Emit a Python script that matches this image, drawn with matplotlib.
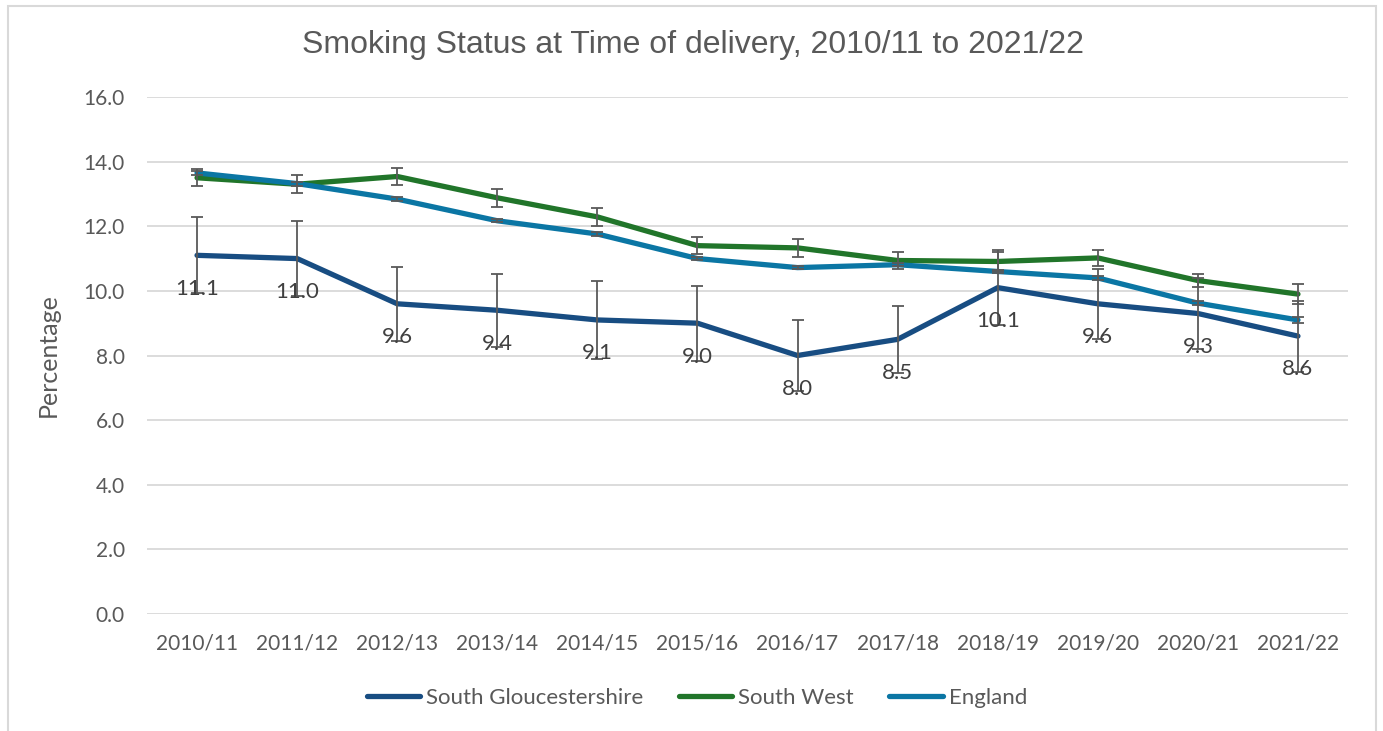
import numpy as np
import matplotlib
matplotlib.use("Agg")
import matplotlib.pyplot as plt
from matplotlib.patches import Rectangle

# data
years = ["2010/11", "2011/12", "2012/13", "2013/14", "2014/15", "2015/16",
         "2016/17", "2017/18", "2018/19", "2019/20", "2020/21", "2021/22"]

sglos = [11.1, 11.0, 9.6, 9.4, 9.1, 9.0, 8.0, 8.5, 10.1, 9.6, 9.3, 8.6]
sglos_err = [1.18, 1.16, 1.14, 1.13, 1.2, 1.16, 1.09, 1.04, 1.16, 1.08, 1.1, 1.1]

swest = [13.5, 13.3, 13.54, 12.88, 12.29, 11.4, 11.33, 10.94, 10.91, 11.02, 10.32, 9.9]
swest_err = [0.26, 0.28, 0.27, 0.28, 0.28, 0.27, 0.27, 0.27, 0.3, 0.26, 0.2, 0.3]

england = [13.65, 13.32, 12.84, 12.17, 11.76, 11.0, 10.72, 10.81, 10.6, 10.4, 9.62, 9.1]
england_err = [0.06, 0.06, 0.05, 0.05, 0.05, 0.05, 0.05, 0.05, 0.05, 0.05, 0.06, 0.1]

c_sg = "#184d82"
c_sw = "#21752a"
c_en = "#0b76a4"
c_err = "#595959"
c_txt = "#595959"

W, H = 1383, 731
fig = plt.figure(figsize=(W / 100, H / 100), dpi=100)
ax = fig.add_axes([147 / W, 1 - 614 / H, (1348 - 147) / W, (614 - 97) / H])

x = np.arange(len(years))

for vals, errs, col, name in [(sglos, sglos_err, c_sg, "South Gloucestershire"),
                              (swest, swest_err, c_sw, "South West"),
                              (england, england_err, c_en, "England")]:
    ax.plot(x, vals, color=col, lw=3.8, solid_capstyle="round", label=name, zorder=3)
    ax.errorbar(x, vals, yerr=errs, fmt="none", ecolor=c_err, elinewidth=1.3,
                capsize=4.2, capthick=1.3, zorder=4)

# data labels for South Gloucestershire, below the point
for xi, v in zip(x, sglos):
    ax.annotate(f"{v:.1f}", (xi, v), xytext=(0, -24), textcoords="offset points",
                ha="center", va="center", fontsize=16, color="#404040",
                family="Lato", zorder=5)

ax.set_xlim(-0.5, len(years) - 0.5)
ax.set_ylim(0, 16)
ax.set_yticks(np.arange(0, 16.1, 2))
ax.set_yticklabels([f"{t:.1f}" for t in np.arange(0, 16.1, 2)])
ax.set_xticks(x)
ax.set_xticklabels(years)
ax.grid(axis="y", color="#d9d9d9", lw=1.3)
ax.set_axisbelow(True)
for s in ax.spines.values():
    s.set_visible(False)
ax.tick_params(length=0, labelsize=15, labelcolor=c_txt)
ax.tick_params(axis="y", pad=16)
ax.tick_params(axis="x", pad=14)
for lab in ax.get_xticklabels() + ax.get_yticklabels():
    lab.set_family("Lato")

ax.set_ylabel("Percentage", fontsize=18, color=c_txt, family="Lato")
ax.yaxis.set_label_coords((60 - 147) / 1201, 0.5)

fig.text(693 / W, 1 - 45 / H, "Smoking Status at Time of delivery, 2010/11 to 2021/22",
         ha="center", va="center", fontsize=23, color=c_txt, family="Liberation Sans")

leg = fig.legend(loc="center", bbox_to_anchor=(697 / W, 1 - 698 / H), ncol=3,
                 frameon=False, prop={"family": "Lato", "size": 16},
                 handlelength=2.4, handletextpad=0.27, columnspacing=1.6)
for t in leg.get_texts():
    t.set_color(c_txt)
for h in leg.get_lines():
    h.set_linewidth(3.8)

# outer chart border
fig.patches.append(Rectangle((8 / W, -0.01), (1376 - 8) / W, 1 - 6 / H + 0.01,
                             transform=fig.transFigure, fill=False,
                             edgecolor="#d9d9d9", lw=1.5))

fig.savefig("out.png", dpi=100)
